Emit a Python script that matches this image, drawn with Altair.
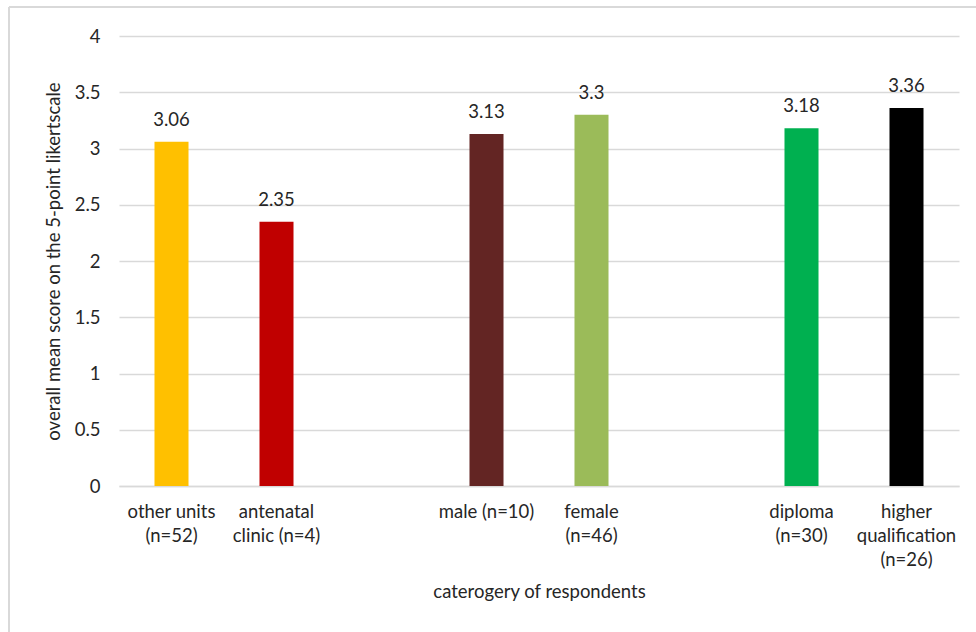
import altair as alt
import pandas as pd

# Respondent groups (blank slots separate the three groupings)
slots = ["other units|(n=52)", "antenatal|clinic (n=4)", " ",
         "male (n=10)", "female|(n=46)", "  ",
         "diploma|(n=30)", "higher|qualification|(n=26)"]
groups = ["other units|(n=52)", "antenatal|clinic (n=4)",
          "male (n=10)", "female|(n=46)",
          "diploma|(n=30)", "higher|qualification|(n=26)"]
mean_scores = [3.06, 2.35, 3.13, 3.3, 3.18, 3.36]
bar_colors = ["#FFC000", "#C00000", "#632523", "#9BBB59", "#00B050", "#000000"]
y_ticks = [0, 0.5, 1, 1.5, 2, 2.5, 3, 3.5, 4]

df = pd.DataFrame({"group": groups, "score": mean_scores, "color": bar_colors})
df["label"] = [f"{v:g}" for v in mean_scores]

FONT = "Lato"
FS = 18.5
TEXT = "#262626"
GRID = "#d9d9d9"

x_enc = alt.X(
    "group:N",
    sort=slots,
    scale=alt.Scale(domain=slots, paddingInner=0.676, paddingOuter=0.338),
    axis=alt.Axis(
        title="caterogery of respondents",
        labelAngle=0,
        labelExpr="split(datum.label, '|')",
        labelLineHeight=24,
        labelPadding=16,
        labelFontSize=FS,
        labelColor=TEXT,
        labelFont=FONT,
        ticks=False,
        domainColor=GRID,
        domainWidth=1.5,
        titleFont=FONT,
        titleFontSize=FS,
        titleFontWeight="normal",
        titleColor=TEXT,
        titlePadding=14,
    ),
)

y_enc = alt.Y(
    "score:Q",
    scale=alt.Scale(domain=[0, 4]),
    axis=alt.Axis(
        title="overall mean score on the 5-point likertscale",
        values=y_ticks,
        labelExpr="toString(datum.value)",
        labelFontSize=FS,
        labelFont=FONT,
        labelColor=TEXT,
        labelPadding=19,
        ticks=False,
        domain=False,
        gridColor=GRID,
        gridWidth=1.5,
        titleFont=FONT,
        titleFontSize=FS,
        titleFontWeight="normal",
        titleColor=TEXT,
        titlePadding=11,
    ),
)

bars = alt.Chart(df).mark_bar().encode(
    x=x_enc,
    y=y_enc,
    color=alt.Color("color:N", scale=None),
)

labels = alt.Chart(df).mark_text(
    baseline="alphabetic", dy=-16, fontSize=FS, font=FONT, color=TEXT
).encode(
    x=alt.X("group:N", sort=slots),
    y="score:Q",
    text="label:N",
)

# light frame around the chart
frame_top = alt.Chart(df).mark_rule(color=GRID, strokeWidth=1.5).encode(
    x=alt.value(-110), x2=alt.value(860), y=alt.value(-29)
)
frame_left = alt.Chart(df).mark_rule(color=GRID, strokeWidth=1.5).encode(
    x=alt.value(-110), y=alt.value(-29), y2=alt.value(600)
)

chart = (
    alt.layer(frame_top, frame_left, bars, labels)
    .properties(
        width=840,
        height=450,
        padding={"left": 119, "top": 36, "right": 17, "bottom": 146},
        autosize=alt.AutoSizeParams(type="none"),
        background="white",
    )
    .configure_view(stroke=None)
)

chart.save("out.html", embed_options={"renderer": "svg", "actions": False})
